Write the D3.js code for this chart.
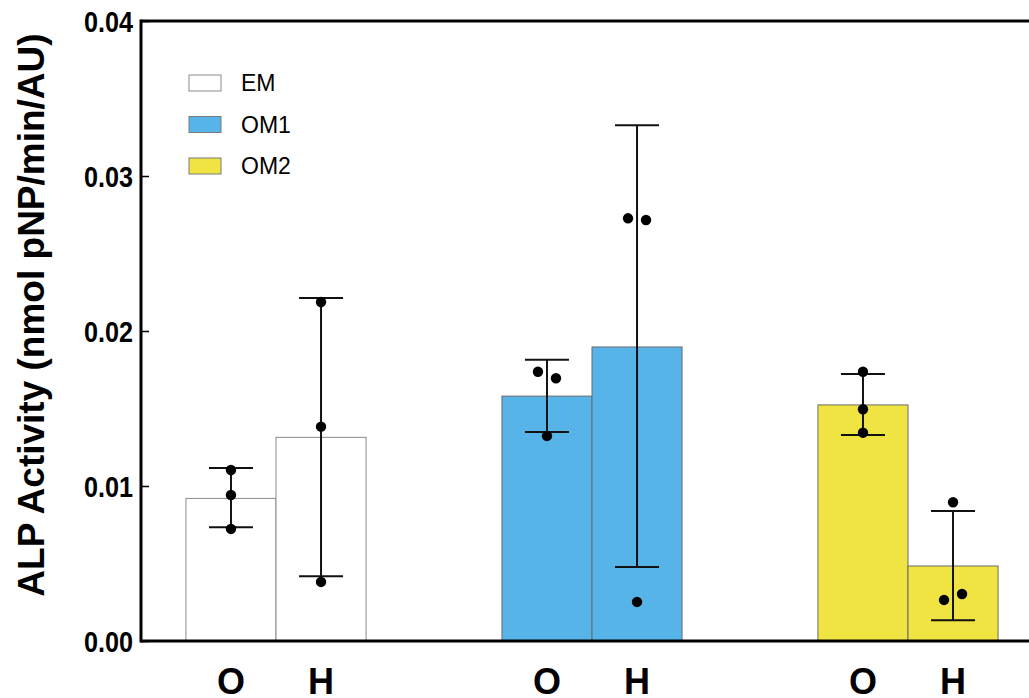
<!DOCTYPE html>
<html>
<head>
<meta charset="utf-8">
<script src="https://cdn.jsdelivr.net/npm/d3@7"></script>
<style>
  html, body { margin: 0; padding: 0; background: #fff; }
  svg { display: block; font-family: "Liberation Sans", Arial, sans-serif; }
</style>
</head>
<body>
<svg id="chart" width="1029" height="698"></svg>
<script>
// ---- data ----
const groups = ["EM", "OM1", "OM2"];
const conditions = ["O", "H"];
const yTicks = [0, 0.01, 0.02, 0.03, 0.04];
const yTitle = "ALP Activity (nmol pNP/min/AU)";

// bar means per group [O, H]
const meanEM  = [0.0092, 0.01314];
const meanOM1 = [0.0158, 0.01897];
const meanOM2 = [0.01523, 0.00484];

// error bar lower / upper per group [O, H]
const lowEM  = [0.00734, 0.00417];
const highEM = [0.01116, 0.02213];
const lowOM1  = [0.01348, 0.00477];
const highOM1 = [0.01815, 0.03327];
const lowOM2  = [0.01329, 0.00134];
const highOM2 = [0.01723, 0.00839];

// replicate points per group: [O points, H points]
const ptsEM  = [[0.01103, 0.00942, 0.00723], [0.02187, 0.01383, 0.00381]];
const ptsOM1 = [[0.01737, 0.01695, 0.01323], [0.02727, 0.02716, 0.00252]];
const ptsOM2 = [[0.01737, 0.01495, 0.01344], [0.00895, 0.00265, 0.00303]];

const fills = ["#ffffff", "#56B4E9", "#F0E442"];

(function () {
const means = [meanEM, meanOM1, meanOM2];
const lows = [lowEM, lowOM1, lowOM2];
const highs = [highEM, highOM1, highOM2];
const pts = [ptsEM, ptsOM1, ptsOM2];

const svg = d3.select("#chart");
const axisX = 141, plotTop = 21, plotBottom = 641;

const y = d3.scaleLinear().domain([0, 0.04]).range([plotBottom, plotTop]);
const x0 = d3.scaleBand().domain(groups).range([118, 1066]).paddingInner(0.43).paddingOuter(0.215);
const x1 = d3.scaleBand().domain(conditions).range([0, x0.bandwidth()]).padding(0);

const bars = [];
groups.forEach((g, gi) => {
  conditions.forEach((c, ci) => {
    bars.push({g, gi, c, ci, mean: means[gi][ci], low: lows[gi][ci], high: highs[gi][ci], pts: pts[gi][ci],
      x: x0(g) + x1(c), cx: x0(g) + x1(c) + x1.bandwidth() / 2});
  });
});

// bars
svg.append("g").selectAll("rect").data(bars).join("rect")
  .attr("x", d => d.x)
  .attr("y", d => y(d.mean))
  .attr("width", x1.bandwidth())
  .attr("height", d => y(0) - y(d.mean))
  .attr("fill", d => fills[d.gi])
  .attr("stroke", d => d.gi === 0 ? "#8a8a8a" : "#6b6b6b")
  .attr("stroke-width", 1);

// error bars
const eb = svg.append("g").attr("stroke", "#111").attr("stroke-width", 2);
const capHalf = 22;
bars.forEach(d => {
  eb.append("line").attr("x1", d.cx).attr("x2", d.cx).attr("y1", y(d.low)).attr("y2", y(d.high));
  eb.append("line").attr("x1", d.cx - capHalf).attr("x2", d.cx + capHalf).attr("y1", y(d.high)).attr("y2", y(d.high));
  eb.append("line").attr("x1", d.cx - capHalf).attr("x2", d.cx + capHalf).attr("y1", y(d.low)).attr("y2", y(d.low));
});

// points with simple collision spreading
const r = 5.2;
const dots = svg.append("g").attr("fill", "#000");
bars.forEach(d => {
  const offs = d.pts.map(() => 0);
  for (let i = 0; i < d.pts.length; i++) {
    for (let j = i + 1; j < d.pts.length; j++) {
      if (Math.abs(y(d.pts[i]) - y(d.pts[j])) < 2 * r + 4 && offs[i] === 0 && offs[j] === 0) {
        offs[i] = -9; offs[j] = 9;
      }
    }
  }
  d.pts.forEach((v, i) => {
    dots.append("circle").attr("cx", d.cx + offs[i]).attr("cy", y(v)).attr("r", r);
  });
});

// frame lines
svg.append("line").attr("x1", axisX).attr("x2", 1040).attr("y1", plotTop).attr("y2", plotTop)
  .attr("stroke", "#000").attr("stroke-width", 3);
svg.append("line").attr("x1", axisX).attr("x2", 1040).attr("y1", plotBottom).attr("y2", plotBottom)
  .attr("stroke", "#000").attr("stroke-width", 3);

// y axis
const yAxis = d3.axisLeft(y).tickValues(yTicks).tickFormat(d3.format(".2f")).tickSize(-8).tickPadding(8);
const ya = svg.append("g").attr("transform", `translate(${axisX},0)`).call(yAxis);
ya.select(".domain").attr("stroke", "#000").attr("stroke-width", 3)
  .attr("d", `M0,${plotTop - 1.5}V${plotBottom + 1.5}`);
ya.selectAll(".tick line").attr("stroke", "#000").attr("stroke-width", 1.5);
ya.selectAll(".tick text")
  .attr("fill", "#000")
  .style("font-size", "30px").style("font-weight", "bold")
  .style("font-family", "'Liberation Sans', Arial, sans-serif")
  .attr("x", 0).attr("dy", "0.36em")
  .attr("transform", "translate(-8,0) scale(0.84,1)");

// x labels
svg.append("g").selectAll("text").data(bars).join("text")
  .attr("x", d => d.cx).attr("y", 694)
  .attr("text-anchor", "middle")
  .style("font-size", "36px").style("font-weight", "bold")
  .text(d => d.c);

// y title
svg.append("text")
  .attr("transform", "translate(44,315) rotate(-90)")
  .attr("text-anchor", "middle")
  .style("font-size", "37px").style("font-weight", "bold")
  .text(yTitle);

// legend
const lg = svg.append("g");
groups.forEach((g, i) => {
  const ly = 75 + i * 41.5;
  lg.append("rect").attr("x", 189).attr("y", ly).attr("width", 32).attr("height", 16)
    .attr("fill", fills[i]).attr("stroke", i === 0 ? "#8a8a8a" : "#7a7a7a").attr("stroke-width", 1);
  lg.append("text").attr("x", 241).attr("y", ly + 8).attr("dy", "0.36em")
    .style("font-size", "23px").text(g);
});
})();
</script>
</body>
</html>
